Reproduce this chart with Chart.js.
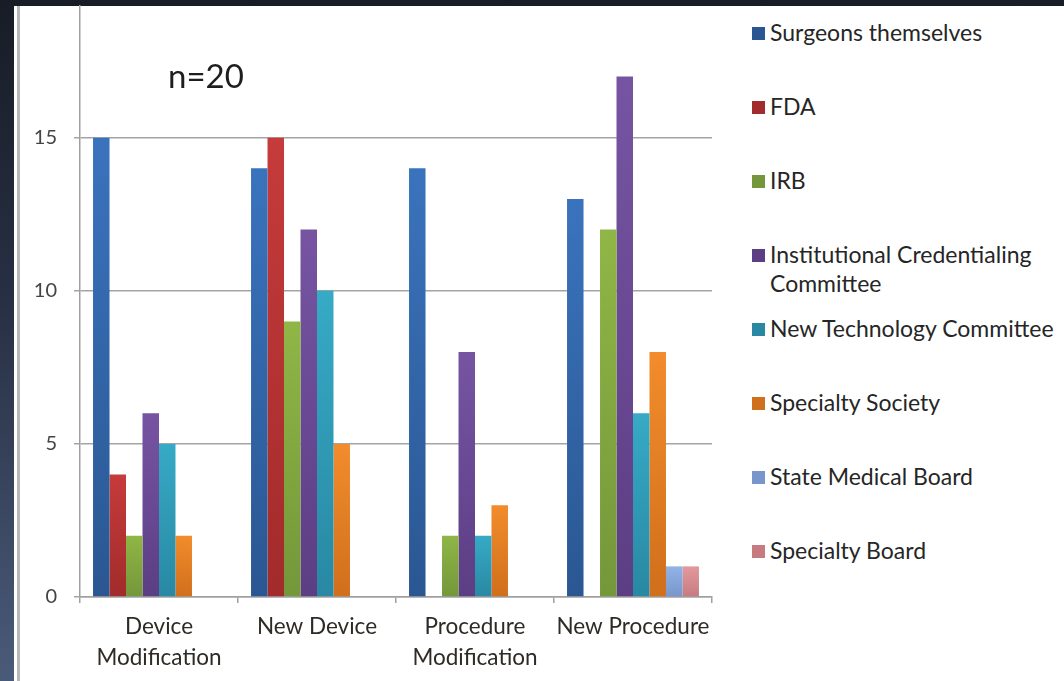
<!DOCTYPE html>
<html>
<head>
<meta charset="utf-8">
<script src="https://cdn.jsdelivr.net/npm/chart.js@4.4.1/dist/chart.umd.min.js"></script>
<style>
    body {
        margin: 0;
        width: 1064px;
        height: 681px;
        overflow: hidden;
        position: relative;
        background: linear-gradient(to bottom, #181c26 0%, #283044 45%, #4a5b79 100%);
        font-family: Lato, "Open Sans", sans-serif;
    }
    #panel { position: absolute; left: 14px; top: 6px; right: 0; bottom: 0; background: #fff; }
    #edge { position: absolute; left: 17px; top: 6px; bottom: 0; width: 3px; background: #b8b8b8; }
    /* canvas starts above the panel so the plot area top lands at y=6 */
    #wrap { position: absolute; left: 20px; top: -23px; width: 700px; height: 704px; }
    #legend { position: absolute; left: 752px; top: 18px; width: 312px; }
    .item { height: 74px; display: flex; align-items: flex-start; }
    .swatch { width: 13px; height: 13px; margin-top: 9px; margin-right: 5px; flex: none; }
    .text { font-size: 23px; line-height: 29px; color: #262626; width: 292px; }
</style>
</head>
<body>
<div id="panel"></div>
<div id="edge"></div>
<div id="wrap"><canvas id="bars"></canvas></div>
<div id="legend"></div>
<script>
    // values
    const categories = [['Device', 'Modification'], 'New Device', ['Procedure', 'Modification'], 'New Procedure'];
    const seriesNames = ['Surgeons themselves', 'FDA', 'IRB', 'Institutional Credentialing Committee',
        'New Technology Committee', 'Specialty Society', 'State Medical Board', 'Specialty Board'];
    const surgeons = [15, 14, 14, 13];
    const fda = [4, 15, 0, 0];
    const irb = [2, 9, 2, 12];
    const credentialing = [6, 12, 8, 17];
    const newTechnology = [5, 10, 2, 6];
    const specialtySociety = [2, 5, 3, 8];
    const stateBoard = [0, 0, 0, 1];
    const specialtyBoard = [0, 0, 0, 1];
    const yTicks = [0, 5, 10, 15];

    const series = [surgeons, fda, irb, credentialing, newTechnology, specialtySociety, stateBoard, specialtyBoard];
    const topColors = ['#3a73bd', '#c63b3b', '#8fb646', '#7654a2', '#36aac6', '#f28c2c', '#93b2e6', '#e2999d'];
    const baseColors = ['#2a5792', '#a22b2b', '#74973a', '#5c3e84', '#2988a3', '#d06f1c', '#7896cb', '#c77b80'];

    // each bar gets its own light-to-dark gradient
    function barFill(i) {
        return ctx => {
            const chart = ctx.chart;
            if (!chart.chartArea || ctx.raw === undefined) return baseColors[i];
            const y = chart.scales.y;
            const top = y.getPixelForValue(ctx.raw);
            const bottom = y.getPixelForValue(0);
            if (bottom - top < 1) return baseColors[i];
            const g = chart.ctx.createLinearGradient(0, top, 0, bottom);
            g.addColorStop(0, topColors[i]);
            g.addColorStop(1, baseColors[i]);
            return g;
        };
    }

    const sampleSize = {
        id: 'sampleSize',
        afterDraw(chart) {
            const c = chart.ctx;
            c.save();
            c.font = '33px Lato, sans-serif';
            c.fillStyle = '#1e1e1e';
            c.textAlign = 'left';
            c.textBaseline = 'middle';
            c.fillText('n=20', chart.chartArea.left + 88, chart.chartArea.top + 71);
            c.restore();
        }
    };

    const chart = new Chart(document.getElementById('bars'), {
        type: 'bar',
        data: {
            labels: categories,
            datasets: series.map((values, i) => ({
                label: seriesNames[i],
                data: values,
                backgroundColor: barFill(i),
                borderWidth: 0,
                categoryPercentage: 0.835,
                barPercentage: 1
            }))
        },
        options: {
            responsive: true,
            maintainAspectRatio: false,
            animation: false,
            layout: { padding: { top: 0, right: 8, bottom: 0, left: 0 } },
            plugins: {
                legend: { display: false },
                tooltip: { enabled: false }
            },
            scales: {
                x: {
                    grid: { drawOnChartArea: false, tickLength: 6, color: '#a0a0a0', lineWidth: 1.5 },
                    border: { color: '#a0a0a0', width: 1.5 },
                    ticks: {
                        padding: 9,
                        color: '#2e2a26',
                        font: { family: 'Lato', size: 22.5, lineHeight: 1.35 },
                        maxRotation: 0
                    },
                    afterFit: scale => { scale.height = 84; }
                },
                y: {
                    min: 0,
                    max: 19.3,
                    grid: { color: '#a4a4a4', lineWidth: 1.5, tickLength: 6 },
                    border: { color: '#a0a0a0', width: 1.5 },
                    ticks: {
                        padding: 17,
                        color: '#444',
                        font: { family: 'Lato', size: 20 }
                    },
                    afterBuildTicks: scale => { scale.ticks = yTicks.map(v => ({ value: v })); },
                    afterFit: scale => { scale.width = 60; }
                }
            }
        },
        plugins: [sampleSize]
    });

    // legend on the right, one row per series
    const legend = document.getElementById('legend');
    chart.data.datasets.forEach((ds, i) => {
        const item = document.createElement('div');
        item.className = 'item';
        item.innerHTML = `<span class="swatch" style="background:${baseColors[i]}"></span><span class="text">${ds.label}</span>`;
        legend.appendChild(item);
    });
</script>
</body>
</html>
